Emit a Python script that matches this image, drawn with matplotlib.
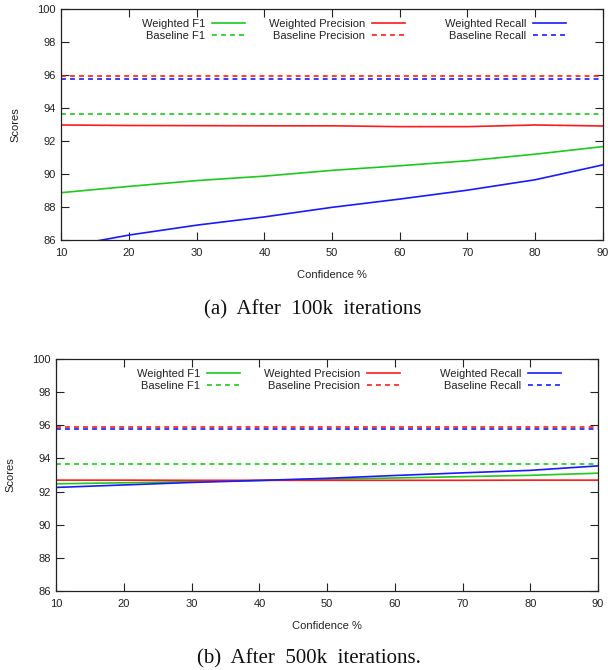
import matplotlib
matplotlib.use("Agg")
import matplotlib.pyplot as plt
from matplotlib.legend import Legend
import numpy as np

plt.rcParams['font.family'] = ['Liberation Sans', 'DejaVu Sans']
plt.rcParams['lines.scale_dashes'] = False

confidence = [10, 20, 30, 40, 50, 60, 70, 80, 90]

# (a) After 100k iterations
a_weighted_f1 = [88.87, 89.25, 89.6, 89.87, 90.22, 90.5, 90.8, 91.2, 91.66]
a_weighted_precision = [92.97, 92.94, 92.93, 92.92, 92.92, 92.87, 92.87, 92.97, 92.91]
a_weighted_recall = [85.55, 86.3, 86.9, 87.4, 87.98, 88.48, 89.02, 89.65, 90.55]
a_baseline_f1 = 93.66
a_baseline_precision = 95.93
a_baseline_recall = 95.76

# (b) After 500k iterations
b_weighted_f1 = [92.47, 92.53, 92.6, 92.67, 92.75, 92.82, 92.9, 92.98, 93.11]
b_weighted_precision = [92.69, 92.69, 92.68, 92.68, 92.68, 92.68, 92.68, 92.69, 92.69]
b_weighted_recall = [92.25, 92.4, 92.55, 92.67, 92.8, 92.97, 93.13, 93.28, 93.55]
b_baseline_f1 = 93.65
b_baseline_precision = 95.91
b_baseline_recall = 95.75

captions = ["(a)  After  100k  iterations", "(b)  After  500k  iterations."]

GREEN = '#1ec81e'
RED = '#ff1a1a'
BLUE = '#1a1aff'
TXT = '#222222'

fig = plt.figure(figsize=(6.08, 6.70), dpi=100)
ax_a = fig.add_axes([61.4/608, (670-240)/670, 541.3/608, 231/670])
ax_b = fig.add_axes([56.3/608, (670-591)/670, 541.7/608, 232/670])

datasets = [
    (ax_a, a_weighted_f1, a_weighted_precision, a_weighted_recall,
     a_baseline_f1, a_baseline_precision, a_baseline_recall),
    (ax_b, b_weighted_f1, b_weighted_precision, b_weighted_recall,
     b_baseline_f1, b_baseline_precision, b_baseline_recall),
]

dash = (0, (3.5, 3.0))
lw = 1.2
for ax, wf1, wp, wr, bf1, bp, br in datasets:
    n = len(confidence)
    l1, = ax.plot(confidence, wf1, color=GREEN, lw=lw, label='Weighted F1')
    l2, = ax.plot(confidence, [bf1]*n, color=GREEN, lw=lw, ls=dash, label='Baseline F1')
    l3, = ax.plot(confidence, wp, color=RED, lw=lw, label='Weighted Precision')
    l4, = ax.plot(confidence, [bp]*n, color=RED, lw=lw, ls=dash, label='Baseline Precision')
    l5, = ax.plot(confidence, wr, color=BLUE, lw=lw, label='Weighted Recall')
    l6, = ax.plot(confidence, [br]*n, color=BLUE, lw=lw, ls=dash, label='Baseline Recall')

    ax.set_xlim(10, 90)
    ax.set_ylim(86, 100)
    ax.set_xticks(confidence)
    ax.set_yticks(np.arange(86, 101, 2))
    ax.tick_params(direction='in', top=True, right=True, length=6, width=0.8,
                   labelsize=8, colors=TXT, labelcolor=TXT)
    ax.tick_params(axis='x', pad=6)
    ax.tick_params(axis='y', pad=4)
    for s in ax.spines.values():
        s.set_linewidth(0.9)
        s.set_color('#222222')

    ax.set_xlabel('Confidence %', fontsize=8, color=TXT, va='center')
    ax.xaxis.set_label_coords(0.5, -35/231)
    ax.set_ylabel('Scores', fontsize=8, color=TXT, va='center')
    ax.yaxis.set_label_coords(-0.0848, 0.5)

    pairs = [([l1, l2], 0.3392), ([l3, l4], 0.6348), ([l5, l6], 0.9322)]
    for handles, xr in pairs:
        leg = Legend(ax, handles, [h.get_label() for h in handles],
                     loc='upper right', bbox_to_anchor=(xr, 0.957),
                     frameon=False, markerfirst=False, fontsize=8, borderpad=0,
                     borderaxespad=0, handlelength=3.0, handletextpad=0.6,
                     labelspacing=0.2, labelcolor=TXT)
        ax.add_artist(leg)

fig.text(312.5/608, 1 - 310/670, captions[0], ha='center', va='center',
         fontsize=15, family='Liberation Serif', color='#111111')
fig.text(309/608, 1 - 659/670, captions[1], ha='center', va='center',
         fontsize=15, family='Liberation Serif', color='#111111')

fig.savefig('out.png', dpi=100)
